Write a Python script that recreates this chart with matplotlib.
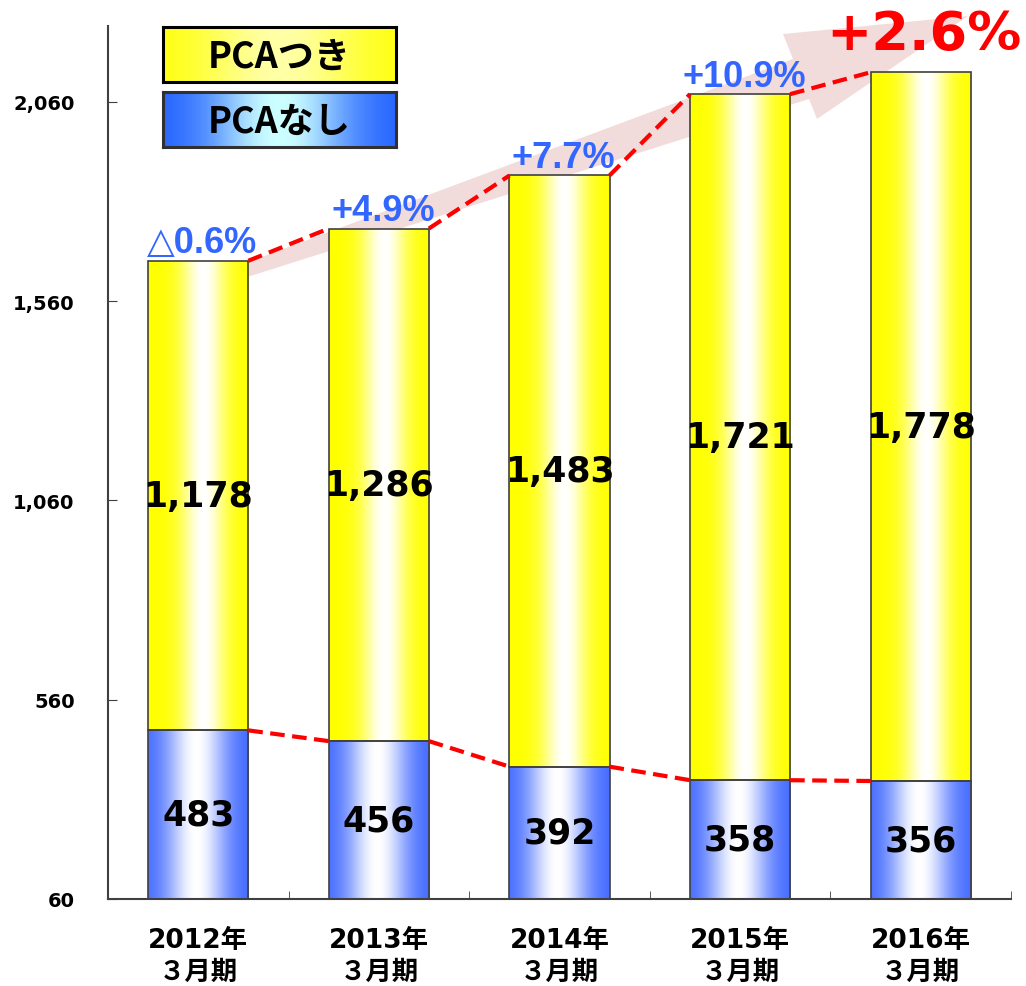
import matplotlib
matplotlib.use('Agg')
import matplotlib.pyplot as plt
from matplotlib.patches import Polygon
from matplotlib.ticker import FuncFormatter
import numpy as np

plt.rcParams['font.family'] = ['DejaVu Sans', 'Noto Sans CJK JP']

# データ（単位：件）
years = ['2012年\n３月期', '2013年\n３月期', '2014年\n３月期', '2015年\n３月期', '2016年\n３月期']
pca_nashi = [483, 456, 392, 358, 356]       # PCAなし
pca_tsuki = [1178, 1286, 1483, 1721, 1778]  # PCAつき
growth = ['△0.6%', '+4.9%', '+7.7%', '+10.9%', '+2.6%']
yticks = [60, 560, 1060, 1560, 2060]

YLO, YHI = 60, 2250
BW = 0.554
YELLOW = np.array([1.0, 1.0, 0.0])
BLUE = np.array([0.24, 0.40, 1.0])
WHITE = np.array([1.0, 1.0, 1.0])


def grad(c_edge, c_mid, center, spread, n=256):
    # 横方向のグラデーション
    t = np.linspace(0, 1, n)
    w = np.exp(-((t - center) / spread) ** 2)
    rgb = c_edge[None, :] * (1 - w)[:, None] + c_mid[None, :] * w[:, None]
    return rgb[None, :, :]


fig = plt.figure(figsize=(10.26, 9.87), dpi=100)
ax = fig.add_axes([108 / 1026, 87 / 987, 903 / 1026, 873 / 987])

x = np.arange(len(years))
total = [a + b for a, b in zip(pca_nashi, pca_tsuki)]

# 背景の矢印（ピンク）
arrow_pts = [(0.1019, 0.709), (0.7586, 0.9622), (0.7475, 0.9908), (0.9524, 1.0115),
             (0.7852, 0.8935), (0.7763, 0.9164), (0.1019, 0.6953)]
ax.add_patch(Polygon(arrow_pts, closed=True, transform=ax.transAxes, facecolor='#f2dcdb',
                     edgecolor='none', zorder=0.5, clip_on=False))

bars1 = ax.bar(x, pca_nashi, width=BW, bottom=0, facecolor='none', edgecolor='#404040',
               linewidth=1.2, zorder=3)
bars2 = ax.bar(x, pca_tsuki, width=BW, bottom=pca_nashi, facecolor='none', edgecolor='#404040',
               linewidth=1.2, zorder=3)

img_b = grad(BLUE, WHITE, 0.48, 0.3)
img_y = grad(YELLOW, WHITE, 0.55, 0.22)
for i in range(len(years)):
    p = bars1[i]
    im = ax.imshow(img_b, extent=(i - BW / 2, i + BW / 2, YLO, pca_nashi[i]), aspect='auto',
                   interpolation='bilinear', zorder=2)
    im.set_clip_path(p)
    p = bars2[i]
    im = ax.imshow(img_y, extent=(i - BW / 2, i + BW / 2, pca_nashi[i], total[i]), aspect='auto',
                   interpolation='bilinear', zorder=2)
    im.set_clip_path(p)

# 破線
for i in range(len(years) - 1):
    ax.plot([i + BW / 2, i + 1 - BW / 2], [total[i], total[i + 1]], color='#ff0000', lw=3,
            linestyle=(0, (3.5, 1.8)), zorder=4)
    ax.plot([i + BW / 2, i + 1 - BW / 2], [pca_nashi[i], pca_nashi[i + 1]], color='#ff0000', lw=3,
            linestyle=(0, (3.5, 1.8)), zorder=4)

# 数値ラベル
for i in range(len(years)):
    ax.text(i, (YLO + pca_nashi[i]) / 2, f'{pca_nashi[i]:,}', ha='center', va='center',
            fontsize=25, fontweight='bold', zorder=5)
    ax.text(i, pca_nashi[i] + pca_tsuki[i] / 2, f'{pca_tsuki[i]:,}', ha='center', va='center',
            fontsize=25, fontweight='bold', zorder=5)

for i, g in enumerate(growth):
    if i == len(growth) - 1:
        ax.annotate(g, (i, total[i]), xytext=(2, 17), textcoords='offset points', ha='center',
                    va='baseline', fontsize=39, fontweight='bold', color='#ff0000', zorder=6,
                    annotation_clip=False)
    else:
        ax.annotate(g, (i, total[i]), xytext=(3, 6), textcoords='offset points', ha='center',
                    va='baseline', fontsize=26, fontweight='bold', color='#3366ff', zorder=6,
                    family=['Liberation Sans', 'DejaVu Sans'])

ax.set_xlim(-0.5, 4.5)
ax.set_ylim(YLO, YHI)
ax.set_yticks(yticks)
ax.yaxis.set_major_formatter(FuncFormatter(lambda v, p: f'{v:,.0f}'))
ax.set_xticks(x)
ax.set_xticklabels(years, fontsize=19, fontweight='bold', linespacing=1.3)
ax.set_xticks(np.arange(0.5, 5, 1), minor=True)
ax.tick_params(axis='x', which='major', length=0, pad=20)
ax.tick_params(axis='x', which='minor', direction='in', length=6, color='#404040')
ax.tick_params(axis='y', direction='in', length=6.5, pad=24, labelsize=14, color='#404040')
for lab in ax.get_yticklabels():
    lab.set_fontweight('bold')
for s in ['top', 'right']:
    ax.spines[s].set_visible(False)
for s in ['left', 'bottom']:
    ax.spines[s].set_color('#404040')
    ax.spines[s].set_linewidth(1.5)

# 凡例（グラデーション付きの箱）
legend_items = [('PCAつき', grad(YELLOW, np.array([1.0, 1.0, 0.65]), 0.5, 0.35), 28, 'black'),
                ('PCAなし', grad(np.array([0.12, 0.37, 1.0]), np.array([0.8, 1.0, 1.0]), 0.5, 0.3),
                 93, '#303030')]
for label, img, top, ec in legend_items:
    lax = fig.add_axes([163 / 1026, (987 - top - 55) / 987, 233 / 1026, 55 / 987])
    lax.imshow(img, extent=(0, 1, 0, 1), aspect='auto', interpolation='bilinear')
    lax.set_xlim(0, 1)
    lax.set_ylim(0, 1)
    lax.set_xticks([])
    lax.set_yticks([])
    for s in lax.spines.values():
        s.set_linewidth(2.2)
        s.set_edgecolor(ec)
    lax.text(0.5, 0.47, label, ha='center', va='center', fontsize=26, fontweight='bold',
             family=['Noto Sans CJK JP'])

fig.savefig('out.png', dpi=100)
